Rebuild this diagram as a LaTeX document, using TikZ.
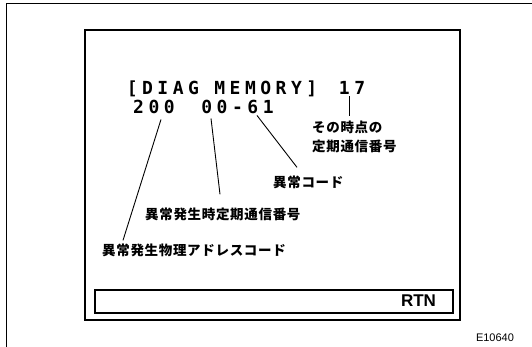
\documentclass[tikz,border=0pt]{standalone}
\usepackage{fontspec}
\setmainfont{Liberation Sans}
\newfontfamily\lcdfont[LetterSpace=25]{DejaVu Sans Mono}
\newfontfamily\jpfont[LetterSpace=5]{Noto Sans CJK JP}
\usetikzlibrary{positioning}

\begin{document}
\begin{tikzpicture}[x=1pt,y=-1pt,
  lcd/.style={font=\lcdfont\bfseries\fontsize{18}{18}\selectfont, inner sep=0pt, anchor=base},
  note/.style={font=\jpfont\bfseries\fontsize{13.5}{19}\selectfont, inner sep=0pt, anchor=west, align=left},
  lead/.style={line width=0.9pt}]
\useasboundingbox (0,0) rectangle (532,347);

% frame and screen
\draw[line width=1pt] (6,347) -- (6,4) -- (532,4);
\draw[line width=1.6pt] (85,30) rectangle (460,320);
\draw[line width=1.3pt] (95,290) rectangle (453,313);
\node[font=\bfseries\fontsize{17}{17}\selectfont, inner sep=0pt] (rtn) at (418.5,301) {RTN};

% screen text
\node[lcd] (title) at (222,95) {[DIAG MEMORY]};
\node[lcd] (cnt) at (352,95) {17};
\node[lcd] (n200) at (154,114) {200};
\node[lcd] (n61) at (237.5,114) {00-61};

% labels
\node[note] (now) at (312,136.5) {その時点の\\定期通信番号};
\node[note] (code) at (273,182) {異常コード};
\node[note] (time) at (145,214) {異常発生時定期通信番号};
\node[note] (addr) at (102,250) {異常発生物理アドレスコード};
\node[font=\fontsize{11}{11}\selectfont, inner sep=0pt] (fig) at (495,338) {E10640};

% leaders (yshift is upward)
\coordinate (c17) at ([xshift=-3pt,yshift=-1pt]cnt.south);
\coordinate (c61) at ([xshift=19.5pt,yshift=-1pt]n61.south);
\coordinate (c00) at ([xshift=-26.5pt,yshift=-4pt]n61.south);
\coordinate (c200) at ([xshift=7pt,yshift=-5pt]n200.south);
\draw[lead] (c17) -- ([xshift=37pt,yshift=4pt]now.north west);
\draw[lead] (c61) -- ([xshift=24pt,yshift=8pt]code.north west);
\draw[lead] (c00) -- ([xshift=75pt,yshift=13pt]time.north west);
\draw[lead] (c200) -- ([xshift=21pt,yshift=3pt]addr.north west);
\end{tikzpicture}
\end{document}
